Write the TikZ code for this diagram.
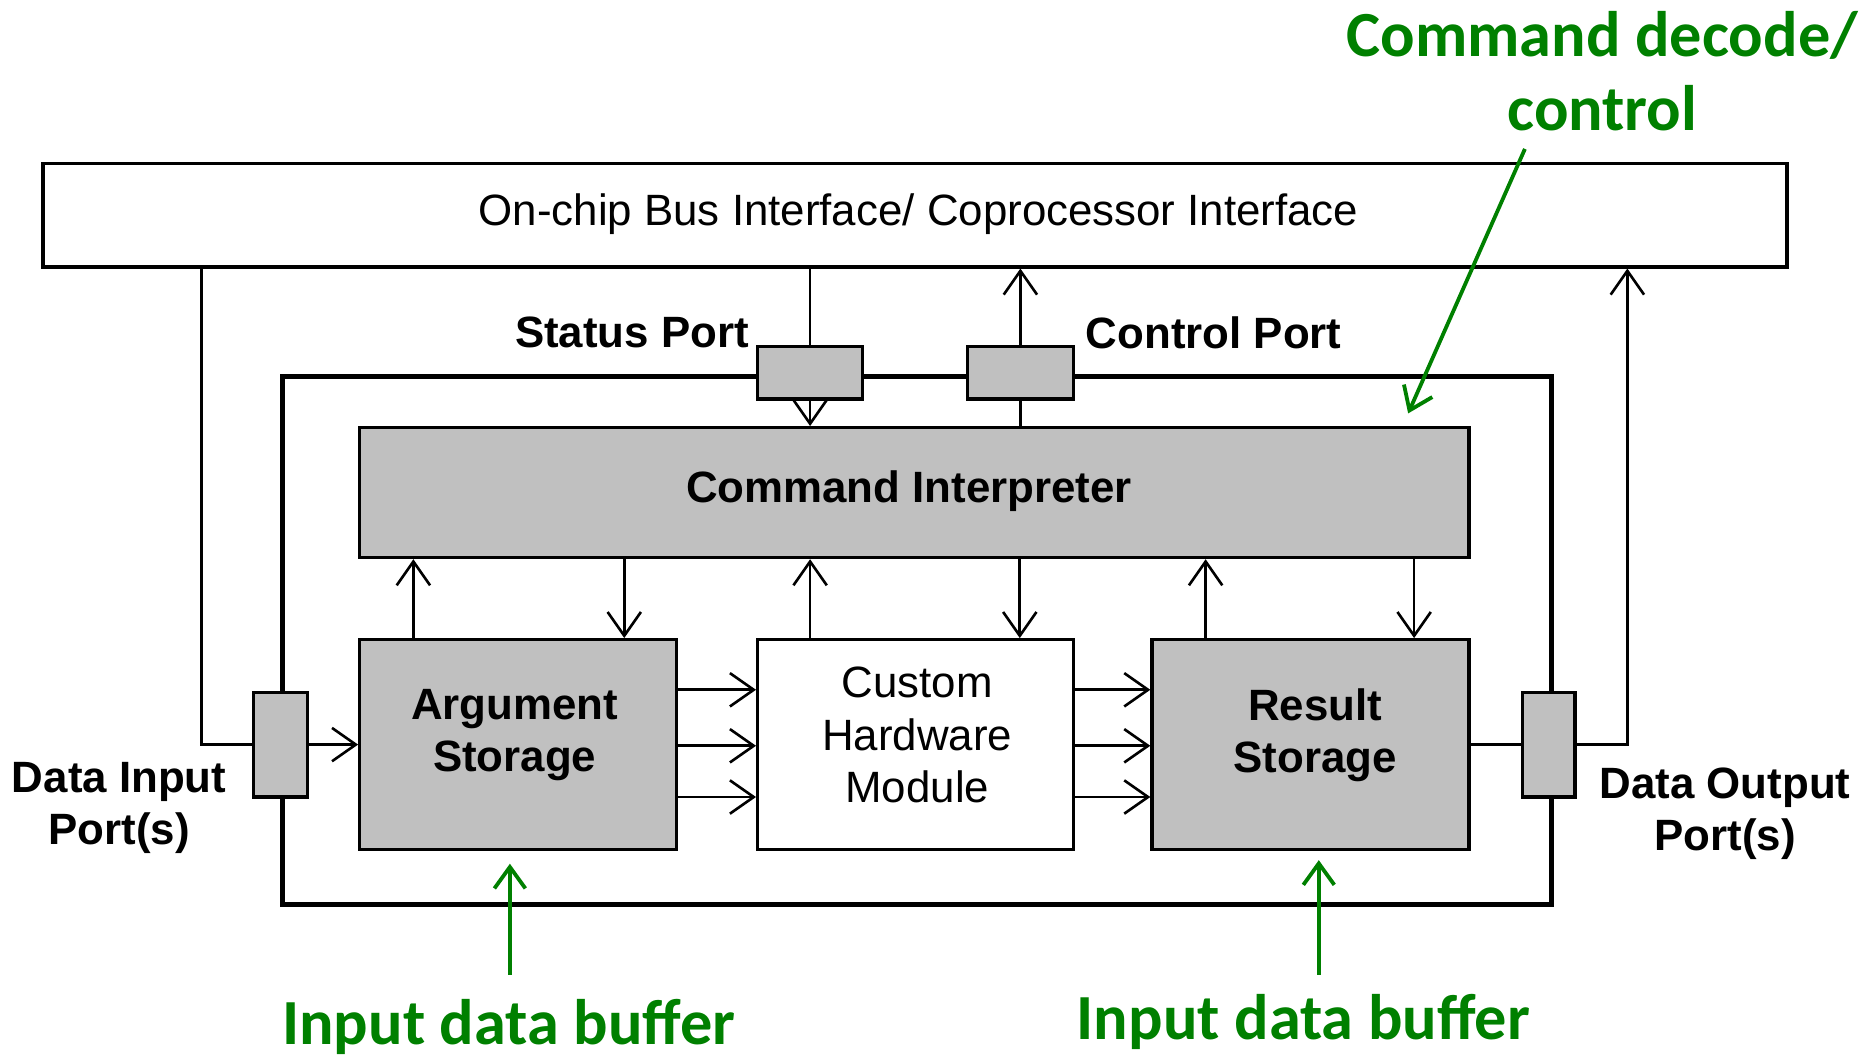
\documentclass[tikz,border=0pt]{standalone}
\usepackage{fontspec}
\setmainfont{Liberation Sans}
\newfontfamily\notefont{Carlito}
\usetikzlibrary{arrows.meta}
\definecolor{blockgray}{RGB}{192,192,192}
\definecolor{notegreen}{RGB}{0,128,0}
\begin{document}
\begin{tikzpicture}[x=0.5pt,y=-0.5pt,
  sz/.style 2 args={minimum width=#1*0.5pt, minimum height=#2*0.5pt},
  blk/.style={draw, line width=1.4pt, inner sep=0pt},
  graybox/.style={blk, fill=blockgray},
  port/.style={draw, line width=1.4pt, fill=blockgray, inner sep=0pt},
  txt/.style={font=\fontsize{18.4}{22}\selectfont, align=center, inner sep=0pt},
  btxt/.style={font=\fontsize{18.4}{22}\selectfont\bfseries, align=center, inner sep=0pt},
  conn/.style={line width=1.1pt},
  arr/.style={conn, -{Straight Barb[length=10pt,width=14pt]}},
  note/.style={text=notegreen, font=\notefont\bfseries\fontsize{27}{31}\selectfont, align=center, inner sep=0pt},
  garr/.style={draw=notegreen, line width=1.6pt, -{Straight Barb[length=9pt,width=13pt]}}
]
\useasboundingbox (0,0) rectangle (1568,889);

% interface bar and coprocessor frame
\node[blk, sz={1464}{87}] (bus) at (768,180.5) {};
\node[txt] (bustxt) at (771,180) {On-chip Bus Interface/ Coprocessor Interface};
\node[draw, line width=2.1pt, inner sep=0pt, sz={1065}{443}] (frame) at (769.5,537.5) {};

% ports on the frame
\node[port, sz={88}{44}] (sp) at (680,313) {};
\node[port, sz={89}{44}] (cp) at (856.5,313) {};
\node[port, sz={45}{88}] (dip) at (235.5,625) {};
\node[port, sz={44}{88}] (dop) at (1300,625) {};

% functional blocks
\node[graybox, sz={931}{109}] (ci) at (767.5,413.5) {};
\node[btxt] (citxt) at (763,412) {Command Interpreter};
\node[graybox, sz={266}{176}] (arg) at (435,625) {};
\node[btxt] (argtxt) at (432,617) {Argument\\Storage};
\node[blk, sz={265}{176}] (cust) at (768.5,625) {};
\node[txt] (custtxt) at (770,617) {Custom\\Hardware\\Module};
\node[graybox, sz={266}{176}] (res) at (1100,625) {};
\node[btxt] (restxt) at (1104,617) {Result\\Storage};

% port labels
\node[btxt, anchor=east] (splbl) at (629,279) {Status Port};
\node[btxt, anchor=west] (cplbl) at (911,279) {Control Port};
\node[btxt] (diplbl) at (100,678) {Data Input\\Port(s)};
\node[btxt] (doplbl) at (1448,683) {Data Output\\Port(s)};

% column and row positions of the connectors
\coordinate (inx) at (169,0);
\coordinate (outx) at (1366,0);
\coordinate (c1) at (347,0);
\coordinate (c2) at (524,0);
\coordinate (c3) at (680,0);
\coordinate (c4) at (856,0);
\coordinate (c5) at (1012,0);
\coordinate (c6) at (1187,0);
\coordinate (r1) at (0,579);
\coordinate (r2) at (0,626);
\coordinate (r3) at (0,669);

% status / control paths
\draw[conn] (bus.south -| sp) -- (sp.north);
\draw[arr] (sp.south) -- (ci.north -| sp);
\draw[arr] (cp.north) -- (bus.south -| cp);
\draw[conn] (ci.north -| cp) -- (cp.south);

% data input / output paths
\draw[conn] (bus.south -| inx) |- (dip.west);
\draw[arr] (dip.east) -- (arg.west);
\draw[conn] (res.east) -- (dop.west);
\draw[arr] (dop.east) -| (bus.south -| outx);

% command interpreter <-> blocks
\draw[arr] (arg.north -| c1) -- (ci.south -| c1);
\draw[arr] (ci.south -| c2) -- (arg.north -| c2);
\draw[arr] (cust.north -| c3) -- (ci.south -| c3);
\draw[arr] (ci.south -| c4) -- (cust.north -| c4);
\draw[arr] (res.north -| c5) -- (ci.south -| c5);
\draw[arr] (ci.south -| c6) -- (res.north -| c6);

% data flow through the hardware module
\foreach \r in {r1,r2,r3} {
  \draw[arr] (arg.east |- \r) -- (cust.west |- \r);
  \draw[arr] (cust.east |- \r) -- (res.west |- \r);
}

% annotations
\node[note] (cdnote) at (1345,60) {Command decode/\\control};
\node[note] (ibuf1) at (427,862) {Input data buffer};
\node[note] (ibuf2) at (1094,858) {Input data buffer};
\coordinate (cdtail) at (1280,125);
\coordinate (cdhead) at (1182,347);
\coordinate (ib1tail) at (428,818);
\coordinate (ib1head) at (428,725);
\coordinate (ib2tail) at (1107,818);
\coordinate (ib2head) at (1107,722);
\draw[garr] (cdtail) -- (cdhead);
\draw[garr] (ib1tail) -- (ib1head);
\draw[garr] (ib2tail) -- (ib2head);
\end{tikzpicture}
\end{document}
